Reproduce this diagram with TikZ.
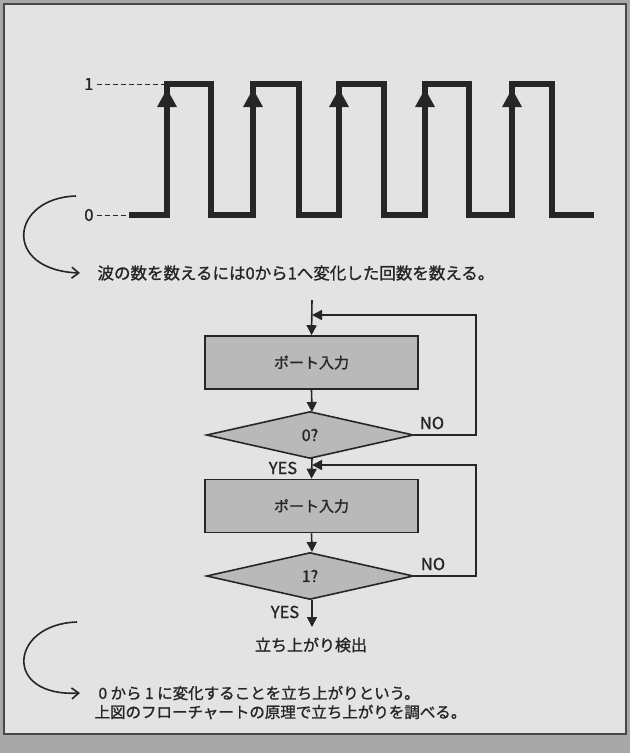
\documentclass[tikz,border=0pt]{standalone}
\usepackage{fontspec}
\newfontfamily\jp{Noto Sans CJK JP}[FakeBold=1.2]
\usetikzlibrary{shapes.geometric,arrows.meta}
\definecolor{paper}{HTML}{E3E3E3}
\definecolor{edge}{HTML}{A8A8A8}
\definecolor{ink}{HTML}{262626}
\definecolor{boxfill}{HTML}{B9B9B9}
\tikzset{
  every node/.style={font=\jp, text=ink},
  wave/.style={line width=5.5pt, draw=ink, line join=miter},
  lvl/.style={dashed, dash pattern=on 5pt off 3pt, line width=1pt, draw=ink},
  procbox/.style={draw=ink, line width=1.6pt, fill=boxfill, minimum width=213pt, minimum height=53pt, inner sep=0pt, font=\jp\fontsize{15}{18}\selectfont},
  decide/.style={draw=ink, line width=1.6pt, fill=boxfill, diamond, shape aspect=4.5, minimum width=207pt, minimum height=47pt, inner sep=0pt, font=\jp\fontsize{16}{18}\selectfont},
  flow/.style={draw=ink, line width=1.6pt, -{Triangle[length=10pt,width=10pt]}},
  lbl/.style={font=\jp\fontsize{16.5}{18}\selectfont},
  curvearrow/.style={draw=ink, line width=1.6pt, -{Straight Barb[length=7pt,width=11pt,line width=1.6pt]}},
  note/.style={font=\jp\fontsize{15.5}{18}\selectfont, anchor=west}
}
\begin{document}
\begin{tikzpicture}[x=1pt,y=-1pt]
\useasboundingbox (0,0) rectangle (630,753);
\fill[edge] (0,0) rectangle (630,753);
\fill[paper, draw=ink!85, line width=1.5pt] (4,4) rectangle (626,734);

% level labels
\node[lbl, anchor=east] (one) at (97,84) {1};
\node[lbl, anchor=east] (zero) at (97,215) {0};
\draw[lvl] (one.east) -- (166,84);
\draw[lvl] (zero.east) -- (129,215);

% square wave
\draw[wave] (129,215) -- (167,215) -- (167,84) -- (211,84) -- (211,215)
  -- (253,215) -- (253,84) -- (299,84) -- (299,215)
  -- (339,215) -- (339,84) -- (384,84) -- (384,215)
  -- (425,215) -- (425,84) -- (469,84) -- (469,215)
  -- (512,215) -- (512,84) -- (552,84) -- (552,215) -- (594,215);
\foreach \x in {167,253,339,425,512}
  \fill[ink] (\x,89) -- (\x-10,107) -- (\x+10,107) -- cycle;

% first note
\coordinate (c1s) at (76,196);
\node[note, font=\jp\fontsize{16.5}{18}\selectfont] (n1) at (94,273) {波の数を数えるには0から1へ変化した回数を数える。};
\draw[curvearrow] (c1s) .. controls (10,198) and (2,270) .. ([xshift=-14pt]n1.west);

% flowchart
\coordinate (top) at (312,300);
\node[procbox] (b1) at (311.5,362.5) {ポート入力};
\node[decide] (d1) at (310,435) {0?};
\node[procbox] (b2) at (311.5,506) {ポート入力};
\node[decide] (d2) at (310,576) {1?};
\coordinate (j1) at (312,315);
\coordinate (j2) at (312,465);
\coordinate (r1) at (476,315);
\coordinate (r2) at (476,465);
\coordinate (endp) at (312,627);

\draw[flow] (top) -- (b1.north);
\draw[flow] (b1.south) -- (312,412);
\draw[flow] (312,458) -- (b2.north);
\draw[flow] (b2.south) -- (312,552);
\draw[flow] (312,600) -- (endp);
\draw[flow] (d1.east) -- (476,435) -- (r1) -- (j1);
\draw[flow] (d2.east) -- (476,576) -- (r2) -- (j2);

\node[lbl] at (432,423) {NO};
\node[lbl] at (433,564) {NO};
\node[lbl] at (283,468) {YES};
\node[lbl] at (285,612) {YES};
\node[font=\jp\fontsize{16}{18}\selectfont] (det) at (311,645) {立ち上がり検出};

% second note
\coordinate (c2s) at (77,622);
\node[note] (n2a) at (95,693) {0 から 1 に変化することを立ち上がりという。};
\node[note] (n2b) at (91,712) {上図のフローチャートの原理で立ち上がりを調べる。};
\draw[curvearrow] (c2s) .. controls (10,624) and (2,697) .. ([xshift=-15pt]n2a.west);
\end{tikzpicture}
\end{document}
